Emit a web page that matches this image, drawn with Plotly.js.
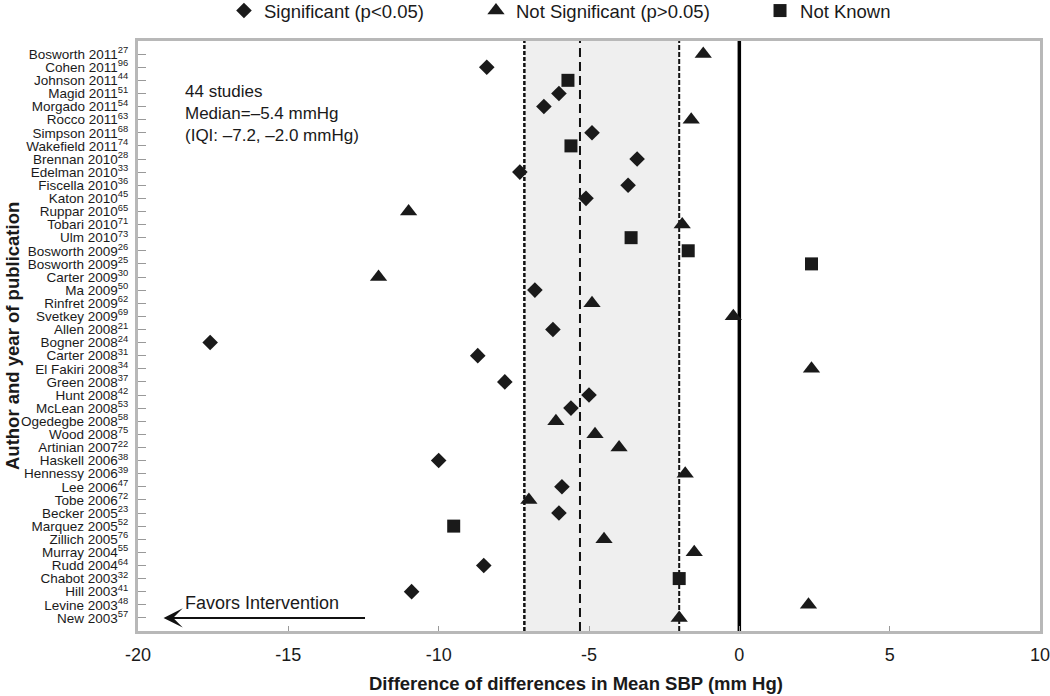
<!DOCTYPE html>
<html>
<head>
<meta charset="utf-8">
<script src="https://cdn.plot.ly/plotly-3.0.1.min.js"></script>
<style>
  html, body { margin: 0; padding: 0; background: #fff; }
  #chart { width: 1050px; height: 696px; }
</style>
</head>
<body>
<div id="chart"></div>
<script>
// ---- data ----
const studies = [
  "Bosworth 2011","Cohen 2011","Johnson 2011","Magid 2011","Morgado 2011","Rocco 2011",
  "Simpson 2011","Wakefield 2011","Brennan 2010","Edelman 2010","Fiscella 2010","Katon 2010",
  "Ruppar 2010","Tobari 2010","Ulm 2010","Bosworth 2009","Bosworth 2009","Carter 2009",
  "Ma 2009","Rinfret 2009","Svetkey 2009","Allen 2008","Bogner 2008","Carter 2008",
  "El Fakiri 2008","Green 2008","Hunt 2008","McLean 2008","Ogedegbe 2008","Wood 2008",
  "Artinian 2007","Haskell 2006","Hennessy 2006","Lee 2006","Tobe 2006","Becker 2005",
  "Marquez 2005","Zillich 2005","Murray 2004","Rudd 2004","Chabot 2003","Hill 2003",
  "Levine 2003","New 2003"
];
const refs = [27,96,44,51,54,63,68,74,28,33,36,45,65,71,73,26,25,30,50,62,69,21,24,31,
              34,37,42,53,58,75,22,38,39,47,72,23,52,76,55,64,32,41,48,57];
const sbpDiff = [-1.2,-8.4,-5.7,-6.0,-6.5,-1.6,-4.9,-5.6,-3.4,-7.3,-3.7,-5.1,
                 -11.0,-1.9,-3.6,-1.7,2.4,-12.0,-6.8,-4.9,-0.2,-6.2,-17.6,-8.7,
                 2.4,-7.8,-5.0,-5.6,-6.1,-4.8,-4.0,-10.0,-1.8,-5.9,-7.0,-6.0,
                 -9.5,-4.5,-1.5,-8.5,-2.0,-10.9,2.3,-2.0];
// S = significant, N = not significant, U = not known
const significance = ["N","S","U","S","S","N","S","U","S","S","S","S",
                      "N","N","U","U","U","N","S","N","N","S","S","S",
                      "N","S","S","S","N","N","N","S","N","S","N","S",
                      "U","N","N","S","U","S","N","N"];
const groupCodes = ["S","N","U"];
const groupNames = ["Significant (p<0.05)","Not Significant (p>0.05)","Not Known"];
const groupSymbols = ["diamond","triangle-up","square"];
const groupSizes = [12,15,13];
const iqrLow = -7.15, medianLine = -5.3, iqrHigh = -2.0;
const xTicks = [-20,-15,-10,-5,0,5,10];

// ---- build ----
const rowPos = studies.map((s,i)=>i+1);
const tickText = studies.map((s,i)=>s + "<sup>" + refs[i] + "</sup>");
const ink = "#1a1a1a";
const FONT = "Liberation Sans, Arial, Helvetica, sans-serif";

const legendX = [0.0953, 0.3747, 0.6896];
const traces = groupCodes.map((g,gi)=>{
  const xs=[], ys=[];
  significance.forEach((c,i)=>{ if(c===g){ xs.push(sbpDiff[i]); ys.push(rowPos[i]); } });
  return {
    type:"scatter", mode:"markers", x:xs, y:ys, name:groupNames[gi],
    legend: gi===0 ? "legend" : ("legend"+(gi+1)),
    marker:{symbol:groupSymbols[gi], size:groupSizes[gi], color:ink, line:{width:0}},
    hoverinfo:"x+y"
  };
});

function legendCfg(x){
  return {x:x, xanchor:"left", y:1.083, yanchor:"top", orientation:"h",
          bgcolor:"rgba(0,0,0,0)", borderwidth:0,
          font:{family:FONT, size:18.5, color:ink}};
}

const layout = {
  width:1050, height:696,
  margin:{l:138, r:10, t:41, b:65, autoexpand:false},
  paper_bgcolor:"#fff", plot_bgcolor:"#fff",
  font:{family:FONT, color:ink},
  showlegend:true,
  legend: legendCfg(legendX[0]),
  legend2: legendCfg(legendX[1]),
  legend3: legendCfg(legendX[2]),
  xaxis:{
    range:[-20,10], tickvals:xTicks, ticktext:xTicks.map(String),
    ticks:"inside", ticklen:5, tickcolor:"#999", tickwidth:1,
    showgrid:false, zeroline:false,
    showline:true, linecolor:"#b8b8b8", linewidth:3, mirror:true,
    tickfont:{family:FONT, size:18, color:ink},
    ticklabelstandoff:5, ticklabeloverflow:"allow"
  },
  yaxis:{
    range:[45,0], tickvals:rowPos, ticktext:tickText,
    ticks:"inside", ticklen:8, tickcolor:"#999", tickwidth:1,
    showgrid:false, zeroline:false,
    showline:true, linecolor:"#b8b8b8", linewidth:3, mirror:true,
    tickfont:{family:FONT, size:13.5, color:ink},
    ticklabelstandoff:4, ticklabeloverflow:"allow"
  },
  shapes:[
    {type:"rect", xref:"x", yref:"paper", x0:iqrLow, x1:iqrHigh, y0:0, y1:1,
     fillcolor:"#efefef", line:{width:0}, layer:"below"},
    {type:"line", xref:"x", yref:"paper", x0:iqrLow, x1:iqrLow, y0:0, y1:1,
     line:{color:"#111", width:2.5, dash:"4px,2px"}, layer:"below"},
    {type:"line", xref:"x", yref:"paper", x0:medianLine, x1:medianLine, y0:0, y1:1,
     line:{color:"#111", width:2, dash:"9px,5px"}, layer:"below"},
    {type:"line", xref:"x", yref:"paper", x0:iqrHigh, x1:iqrHigh, y0:0, y1:1,
     line:{color:"#111", width:2, dash:"5px,2px"}, layer:"below"},
    {type:"line", xref:"x", yref:"paper", x0:0, x1:0, y0:0, y1:1,
     line:{color:"#000", width:3.5}, layer:"below"}
  ],
  annotations:[
    {text:"44 studies<br>Median=–5.4 mmHg<br>(IQI: –7.2, –2.0 mmHg)",
     xref:"x", yref:"y", x:-18.52, y:5.5, xanchor:"left", yanchor:"middle",
     align:"left", showarrow:false, font:{family:FONT, size:17, color:ink}},
    {text:"Favors Intervention", xref:"x", yref:"y", x:-18.52, y:42.85,
     xanchor:"left", yanchor:"middle", showarrow:false,
     font:{family:FONT, size:18, color:ink}},
    {text:"", xref:"x", yref:"y", x:-19.15, y:44, ax:-12.4, ay:44,
     axref:"x", ayref:"y", showarrow:true, arrowhead:3, arrowsize:1.6,
     arrowwidth:2, arrowcolor:"#111"},
    {text:"<b>Difference of differences in Mean SBP (mm Hg)</b>",
     xref:"paper", yref:"paper", x:(576-138)/902, y:(631-683)/590,
     xanchor:"center", yanchor:"middle", showarrow:false,
     font:{family:FONT, size:18.5, color:ink}},
    {text:"<b>Author and year of publication</b>", textangle:-90,
     xref:"paper", yref:"paper", x:(12-138)/902, y:(631-336)/590,
     xanchor:"center", yanchor:"middle", showarrow:false,
     font:{family:FONT, size:18.5, color:ink}}
  ]
};

Plotly.newPlot("chart", traces, layout, {displayModeBar:false, staticPlot:true});
</script>
</body>
</html>
